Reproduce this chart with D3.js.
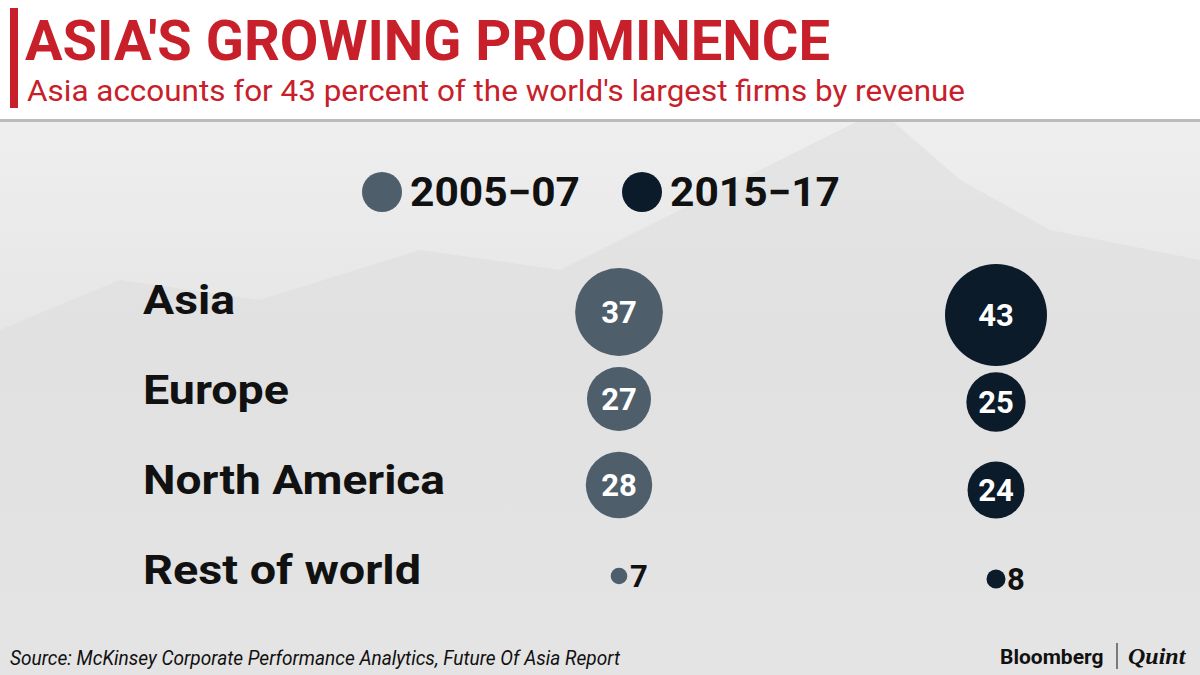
<!DOCTYPE html>
<html><head><meta charset="utf-8">
<script src="https://d3js.org/d3.v7.min.js"></script>
<style>body{margin:0;overflow:hidden}svg{display:block}</style>
</head><body>
<script>
const regions = ["Asia","Europe","North America","Rest of world"];
const series = ["2005\u221207","2015\u221217"];
const v2005 = [37,27,28,7];
const v2015 = [43,25,24,8];
const colors = ["#4e5e6a","#0c1b2a"];

const W=1200,H=675;
const svg=d3.select("body").append("svg").attr("width",W).attr("height",H);
const defs=svg.append("defs");
const g=defs.append("linearGradient").attr("id","bg").attr("x1",0).attr("y1",0).attr("x2",0).attr("y2",1);
g.append("stop").attr("offset","0").attr("stop-color","#f3f3f3");
g.append("stop").attr("offset","0.5").attr("stop-color","#e6e6e6");
g.append("stop").attr("offset","1").attr("stop-color","#ededed");
svg.append("rect").attr("width",W).attr("height",H).attr("fill","url(#bg)");
svg.append("path").attr("d","M0,330 L120,280 L260,300 L420,250 L560,270 L700,200 L800,150 L880,110 L960,180 L1050,230 L1200,260 L1200,675 L0,675Z")
  .attr("fill","#dcdcdc").attr("opacity",0.5);

// header
svg.append("rect").attr("x",0).attr("y",118).attr("width",W).attr("height",4).attr("fill","#bbb");
svg.append("rect").attr("x",0).attr("y",0).attr("width",W).attr("height",119).attr("fill","#fff");
svg.append("rect").attr("x",10).attr("y",8).attr("width",8).attr("height",100).attr("fill","#c8202a");
svg.append("text").attr("x",25).attr("y",60).text("ASIA'S GROWING PROMINENCE")
  .attr("font-family","Roboto").attr("font-weight",700).attr("font-size",56).attr("fill","#c8202a")
  .attr("textLength",805).attr("lengthAdjust","spacingAndGlyphs");
svg.append("text").attr("x",27).attr("y",101).text("Asia accounts for 43 percent of the world's largest firms by revenue")
  .attr("font-family","Roboto").attr("font-size",30).attr("fill","#c8202a")
  .attr("textLength",938).attr("lengthAdjust","spacingAndGlyphs");

// legend
const legX=[382,642];
const legW=[170,170];
series.forEach((s,i)=>{
  svg.append("circle").attr("cx",legX[i]).attr("cy",192).attr("r",20).attr("fill",colors[i]);
  svg.append("text").attr("x",legX[i]+28).attr("y",206).text(s)
    .attr("font-family","Roboto").attr("font-weight",700).attr("font-size",40).attr("fill","#111")
    .attr("textLength",legW[i]).attr("lengthAdjust","spacingAndGlyphs");
});

const y=d3.scalePoint().domain(regions).range([300,570]);
const r=d3.scaleLinear().domain([0,43]).range([0,51]);
const cols=[{x:619,vals:v2005,c:colors[0],dy:[12,9,5,6]},{x:996,vals:v2015,c:colors[1],dy:[15,12,10,9]}];
const labW=[92,146,302,278];

regions.forEach((reg,i)=>{
  svg.append("text").attr("x",143).attr("y",y(reg)+14).text(reg)
    .attr("font-family","Roboto").attr("font-weight",700).attr("font-size",40).attr("fill","#111")
    .attr("textLength",labW[i]).attr("lengthAdjust","spacingAndGlyphs");
});
cols.forEach(col=>{
  col.vals.forEach((v,i)=>{
    const cy=y(regions[i])+col.dy[i];
    const rr=Math.max(r(v),7);
    svg.append("circle").attr("cx",col.x).attr("cy",cy).attr("r",rr).attr("fill",col.c);
    if(v>=15){
      svg.append("text").attr("x",col.x).attr("y",cy+11).attr("text-anchor","middle").text(v)
        .attr("font-family","Roboto").attr("font-weight",700).attr("font-size",31).attr("fill","#fff");
    } else {
      svg.append("text").attr("x",col.x+11).attr("y",cy+11).text(v)
        .attr("font-family","Roboto").attr("font-weight",700).attr("font-size",31).attr("fill","#111");
    }
  });
});

// footer
svg.append("text").attr("x",10).attr("y",665).text("Source: McKinsey Corporate Performance Analytics, Future Of Asia Report")
  .attr("font-family","Roboto").attr("font-style","italic").attr("font-size",21).attr("fill","#111")
  .attr("textLength",610).attr("lengthAdjust","spacingAndGlyphs");
svg.append("text").attr("x",1000).attr("y",664).text("Bloomberg")
  .attr("font-family","Roboto").attr("font-weight",700).attr("font-size",21).attr("fill","#111");
svg.append("line").attr("x1",1117).attr("x2",1117).attr("y1",643).attr("y2",669).attr("stroke","#111").attr("stroke-width",1);
svg.append("text").attr("x",1128).attr("y",664).text("Quint")
  .attr("font-family","Liberation Serif").attr("font-style","italic").attr("font-weight",700).attr("font-size",24).attr("fill","#111");
</script>
</body></html>
